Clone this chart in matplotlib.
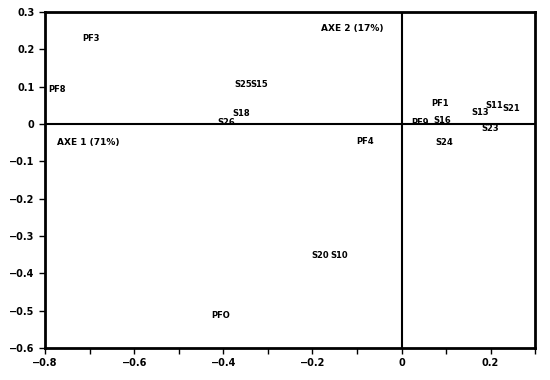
import matplotlib
matplotlib.use("Agg")
import matplotlib.pyplot as plt
from matplotlib.ticker import MultipleLocator, FuncFormatter

# coordonnees des individus sur les axes 1 et 2
labels = ["PF3", "PF8", "S25", "S15", "S18", "S26", "PF4", "S20", "S10", "PFO",
          "PF1", "PF9", "S16", "S13", "S11", "S21", "S23", "S24"]
axe1 = [-0.717, -0.793, -0.375, -0.339, -0.379, -0.413, -0.102, -0.202, -0.160, -0.426,
        0.066, 0.023, 0.072, 0.157, 0.189, 0.227, 0.180, 0.075]
axe2 = [0.230, 0.094, 0.107, 0.105, 0.029, 0.005, -0.046, -0.351, -0.351, -0.512,
        0.054, 0.005, 0.011, 0.032, 0.051, 0.043, -0.011, -0.048]

axis_names = ["AXE 1 (71%)", "AXE 2 (17%)"]
axis_name_pos = [(-0.773, -0.050), (-0.180, 0.257)]


def fmt(v, _):
    if abs(v) < 1e-9:
        return "0"
    return f"{v:.1f}".replace("-", "\u2212")


fig = plt.figure(figsize=(5.5, 3.8), dpi=100)
ax = fig.add_axes([0.082, 0.084, 0.891, 0.884])

for name, x, y in zip(labels, axe1, axe2):
    ax.text(x, y, name, fontsize=6, fontweight="bold", ha="left", va="center")

for name, (x, y) in zip(axis_names, axis_name_pos):
    ax.text(x, y, name, fontsize=6.5, fontweight="bold", ha="left", va="center")

ax.axhline(0, color="black", lw=1.5)
ax.axvline(0, color="black", lw=1.5)

ax.set_xlim(-0.8, 0.3)
ax.set_ylim(-0.6, 0.3)
ax.xaxis.set_major_locator(MultipleLocator(0.2))
ax.xaxis.set_minor_locator(MultipleLocator(0.1))
ax.yaxis.set_major_locator(MultipleLocator(0.1))
ax.xaxis.set_major_formatter(FuncFormatter(fmt))
ax.yaxis.set_major_formatter(FuncFormatter(fmt))
ax.tick_params(axis="both", which="both", direction="out", width=1, labelsize=7)
ax.tick_params(axis="both", which="major", length=4)
ax.tick_params(axis="x", which="minor", length=4)
for lab in ax.get_xticklabels() + ax.get_yticklabels():
    lab.set_fontweight("bold")
for sp in ax.spines.values():
    sp.set_linewidth(2)

fig.savefig("out.png", dpi=100)
